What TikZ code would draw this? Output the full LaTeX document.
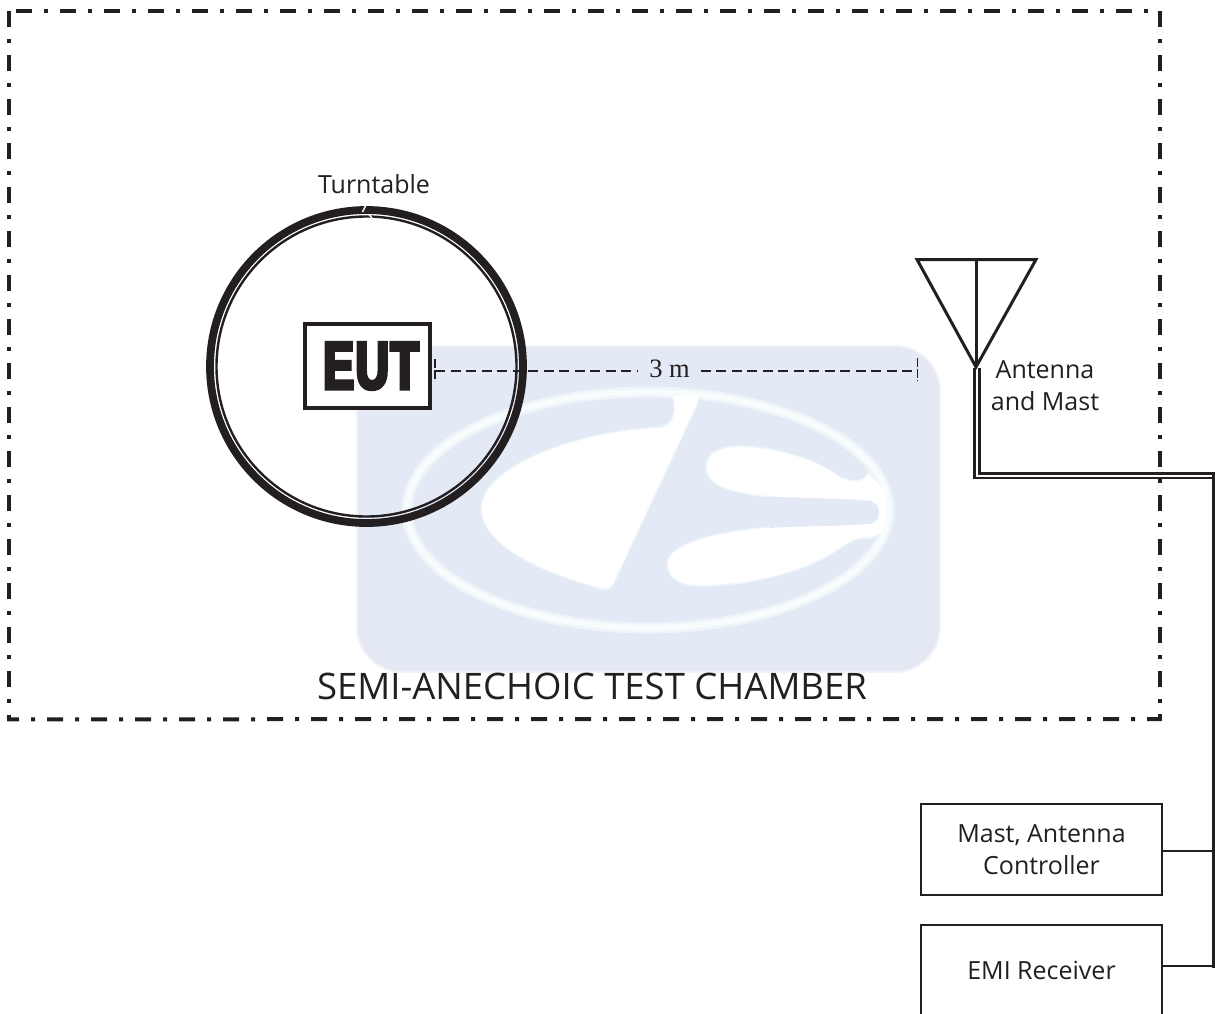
\documentclass[tikz,border=0pt]{standalone}
\usepackage{fontspec}
\setmainfont{Open Sans}
\newfontfamily\dimfont{Liberation Serif}
\newfontfamily\eutfont[FakeStretch=0.68,FakeBold=5.5,LetterSpace=3]{Liberation Sans Bold}
\definecolor{ink}{HTML}{231F20}
\definecolor{wmblue}{HTML}{E3E9F5}
\definecolor{wmedge}{HTML}{E7E7F3}
\definecolor{wmfade}{HTML}{EFF3FA}
\definecolor{wmhalo}{HTML}{EFF6FA}
\definecolor{wmring}{HTML}{F9FCFD}
\tikzset{
  chamberline/.style={draw=ink,line width=4pt,dash pattern=on 16pt off 12pt on 4pt off 12pt},
  caption/.style={inner sep=0pt,text=ink,align=center,font=\fontsize{25}{32}\selectfont},
  unitbox/.style={draw=ink,line width=2.8pt,minimum width=241pt,inner sep=0pt,text=ink,align=center,font=\fontsize{25}{32}\selectfont},
  wire/.style={draw=ink,line width=3pt},
  feed/.style={draw=ink,line width=2.7pt},
  dimline/.style={draw=ink,line width=2pt,dash pattern=on 10pt off 5.5pt},
  dimtick/.style={draw=ink,line width=1.6pt,dash pattern=on 9pt off 2pt},
  wmhaloline/.style={draw=wmhalo,line width=3pt},
}
\def\wmD{(698,396) -- (697,403) -- (613,583)
  .. controls (610,589) and (606,589) .. (602,588)
  .. controls (560,577) and (482,550) .. (482,508)
  .. controls (482,470) and (570,432) .. (660,428)
  .. controls (674,427) and (678,410) .. (673,396) -- cycle}
\def\wmUp{(707,468) .. controls (707,452) and (722,447) .. (740,447)
  .. controls (770,447) and (810,458) .. (833,473)
  .. controls (845,483) and (864,485) .. (868,474)
  -- (886,492) -- (888,500) -- (868,500)
  .. controls (840,498) and (810,498) .. (783,497)
  .. controls (750,495) and (707,490) .. (707,468) -- cycle}
\def\wmLow{(668,563) .. controls (668,545) and (720,530) .. (783,527)
  .. controls (810,526) and (845,526) .. (868,524)
  -- (888,522) -- (886,530) -- (870,538)
  .. controls (860,534) and (846,543) .. (833,552)
  .. controls (800,572) and (750,585) .. (700,585)
  .. controls (680,585) and (668,578) .. (668,563) -- cycle}
\begin{document}
\begin{tikzpicture}[x=1pt,y=-1pt]
\useasboundingbox (0,0) rectangle (1215,1013);
\clip (0,0) rectangle (1215,1013);
% watermark
\fill[wmfade,rounded corners=46pt] (356,345) rectangle (941,673);
\fill[wmedge,rounded corners=44pt] (358,347) rectangle (939,671);
\fill[wmblue,rounded corners=40pt] (363,350) rectangle (933,667);
\draw[wmhalo,line width=11pt] (648,510) ellipse [x radius=241pt,y radius=118pt];
\draw[wmhaloline] \wmD;
\draw[wmhaloline] \wmUp;
\draw[wmhaloline] \wmLow;
\fill[white] \wmD;
\fill[white] \wmUp;
\fill[white] \wmLow;
\fill[white] (872,494) rectangle (888,532);
\draw[wmring,line width=5pt] (648,510) ellipse [x radius=241pt,y radius=118pt];
\fill[wmblue] (770,496.5) -- (783,497.5) .. controls (810,498) and (840,499) .. (868,501)
  .. controls (883,502) and (883,523) .. (868,524)
  .. controls (845,526) and (810,526) .. (783,527) -- (770,528) -- cycle;
% chamber
\coordinate (ctl) at (9,10.5);
\coordinate (ctr) at (1150,10.5);
\coordinate (cbl) at (9,719);
\coordinate (cbr) at (1161,719);
\draw[chamberline] (16,10.5) -- (ctr);
\draw[chamberline] (ctl) -- (9,721);
\draw[chamberline] (1159.5,11) -- (1159.5,705);
\draw[chamberline,dash phase=4pt] (7,719.3) -- (cbr);
\draw[draw=ink,line width=4pt] (1159.5,714) -- (1159.5,721);
% turntable
\node[circle,draw=ink,line width=7.8pt,minimum size=313pt,inner sep=0pt] (tableouter) at (366.5,366.5) {};
\node[circle,draw=ink,line width=2.4pt,minimum size=300pt,inner sep=0pt] (tableinner) at (366.5,366.5) {};
\draw[white,line width=1.5pt] (366,205) -- (362.5,212);
\draw[white,line width=1.5pt] (369,214.5) -- (372,218);
\node[caption,anchor=center] (turntable) at (374,184) {Turntable};
% EUT
\node[draw=ink,fill=white,line width=4pt,minimum width=124.5pt,minimum height=84pt,inner sep=0pt] (eut) at (367.25,366) {};
\node[inner sep=0pt,text=ink,font=\eutfont\fontsize{67}{67}\selectfont] (euttext) at (371,366) {EUT};
% dimension
\coordinate (dl) at (435,370.5);
\coordinate (dr) at (917.5,370.5);
\coordinate (dlt) at (435,359);
\coordinate (dlb) at (435,381);
\coordinate (drt) at (917.5,358);
\coordinate (drb) at (917.5,381);
\node[inner sep=0pt,minimum width=62pt,text=ink,font=\dimfont\fontsize{26.5}{26.5}\selectfont] (dist) at (669.5,369) {3 m};
\draw[dimline] (dl) -- (dl -| dist.west);
\draw[dimline] (dist.east |- dr) -- (dr);
\draw[dimtick] (dlt) -- (dlb);
\draw[dimtick] (drt) -- (drb);
% antenna
\coordinate (apex) at (976,367);
\coordinate (aleft) at (917,259.5);
\coordinate (aright) at (1036,259.5);
\coordinate (atop) at (976,259.5);
\draw[wire,line join=miter] (aleft) -- (aright) -- (apex) -- cycle;
\draw[wire] (atop) -- (apex);
\node[caption] (antenna) at (1045,386) {Antenna\\and Mast};
% feed
\coordinate (fl) at (974.6,368);
\coordinate (fr) at (979.8,368);
\coordinate (fe) at (1215,473.4);
\coordinate (fo) at (1215,478);
\draw[feed] (fl) -- (fl |- fo) -- (fo);
\draw[feed] (fr) -- (fr |- fe) -- (fe);
\coordinate (bustop) at (1213.5,473.4);
\coordinate (busend) at (1213.5,967.5);
\draw[feed] (bustop) -- (busend);
% units
\node[unitbox,minimum height=91pt] (mast) at (1041.5,849.5) {Mast, Antenna\\Controller};
\node[unitbox,minimum height=90pt] (emi) at (1041.5,970) {EMI Receiver};
\draw[feed] (mast.east |- 0,851) -- (1213.5,851);
\draw[feed] (emi.east |- 0,966) -- (1213.5,966);
% title
\node[inner sep=0pt,text=ink,font=\fontsize{36.5}{40}\selectfont] (title) at (592,686) {SEMI-ANECHOIC TEST CHAMBER};
\end{tikzpicture}
\end{document}
